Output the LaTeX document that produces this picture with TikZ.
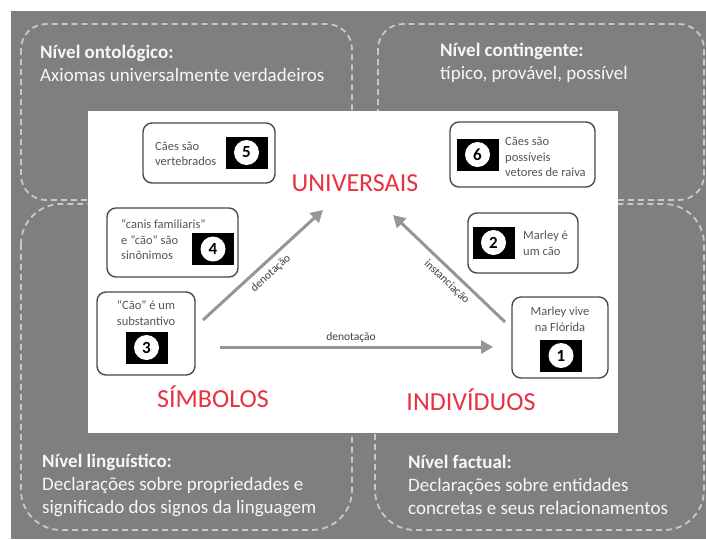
\documentclass[tikz,border=0pt]{standalone}
\usepackage{fontspec}
\setmainfont{Carlito}
\usepackage{xcolor}
\usetikzlibrary{arrows.meta, positioning}

\definecolor{bggray}{RGB}{127,127,127}
\definecolor{dashgray}{RGB}{200,200,200}
\definecolor{headred}{RGB}{232,50,66}
\definecolor{boxline}{RGB}{75,75,75}
\definecolor{boxtext}{RGB}{85,85,85}
\definecolor{arrowgray}{RGB}{150,150,150}

\begin{document}
\begin{tikzpicture}[
			x=1pt, y=-1pt,
			level/.style = {draw=dashgray, line width=1.8pt, dash pattern=on 6pt off 4pt, rounded corners=#1},
			leveltext/.style = {text=white!94!gray, font=\fontsize{19}{23}\selectfont,
					align=left, anchor=west, inner sep=0pt},
			category/.style = {text=headred, font=\fontsize{26}{30}\selectfont, inner sep=0pt},
			stmt/.style = {rectangle, draw=boxline, line width=1.4pt, rounded corners=9pt, inner sep=0pt},
			stmttext/.style = {text=boxtext, font=\fontsize{12.5}{15.5}\selectfont, inner sep=0pt},
			badge/.style = {rectangle, fill=black, minimum width=42pt, minimum height=32pt, inner sep=0pt},
			digit/.style = {circle, fill=white, minimum size=25pt, inner sep=0pt,
					font=\fontsize{17}{17}\selectfont\bfseries},
			line/.style = {draw=arrowgray, line width=3pt, -{Triangle[length=12pt, width=13pt]}},
			linelabel/.style = {text=black!75, font=\fontsize{11.5}{12}\selectfont, inner sep=5pt},
		]
		% Background and frame
		\useasboundingbox (0,0) rectangle (706,539);
		\fill [white] (0,0) rectangle (706,539);
		\fill [bggray] (11,11) rectangle (706,539);

		% Dashed level regions
		\draw [level=25pt] (21,24) rectangle (352,200);
		\draw [level=25pt] (378,24) rectangle (704,200);
		\draw [level=40pt] (21,204) rectangle (352,530);
		\draw [level=40pt] (375,204) rectangle (704,530);

		% Level descriptions
		\node [leveltext] (ontologico) at (40,63) {\textbf{Nível ontológico:}\\Axiomas universalmente verdadeiros};
		\node [leveltext] (contingente) at (440,63) {\textbf{Nível contingente:}\\típico, provável, possível};
		\node [leveltext] (linguistico) at (42,485) {\textbf{Nível linguístico:}\\Declarações sobre propriedades e\\significado dos signos da linguagem};
		\node [leveltext] (factual) at (408,485) {\textbf{Nível factual:}\\Declarações sobre entidades\\concretas e seus relacionamentos};

		% White panel
		\fill [white] (88,111) rectangle (618,433);

		% Triangle corners
		\node [category] (universais) at (355,183) {UNIVERSAIS};
		\node [category] (simbolos) at (213,397) {SÍMBOLOS};
		\node [category] (individuos) at (471,400) {INDIVÍDUOS};

		% Statement 5
		\node [stmt, minimum width=132pt, minimum height=60pt] (box5) at (209,153) {};
		\node [stmttext, align=left, anchor=west] (text5) at (155,154) {Cães são\\vertebrados};
		\node [badge] (badge5) at (246.5,152.5) {};
		\node [digit] (digit5) at (badge5) {5};

		% Statement 4
		\node [stmt, minimum width=131pt, minimum height=69pt] (box4) at (172.5,242.5) {};
		\node [stmttext, align=left, anchor=west] (text4) at (121,240) {“canis familiaris”\\e “cão” são\\sinônimos};
		\node [badge] (badge4) at (213,249) {};
		\node [digit] (digit4) at (badge4) {4};

		% Statement 3
		\node [stmt, minimum width=98pt, minimum height=83pt] (box3) at (146,333.5) {};
		\node [stmttext, align=center] (text3) at (146,313) {“Cão” é um\\substantivo};
		\node [badge] (badge3) at (146.5,347.5) {};
		\node [digit] (digit3) at (badge3) {3};

		% Statement 6
		\node [stmt, minimum width=145pt, minimum height=65pt] (box6) at (522.5,154.5) {};
		\node [badge] (badge6) at (477.5,154.5) {};
		\node [digit] (digit6) at (badge6) {6};
		\node [stmttext, align=left, anchor=west] (text6) at (505,157) {Cães são\\possíveis\\vetores de raiva};

		% Statement 2
		\node [stmt, minimum width=110pt, minimum height=60pt] (box2) at (523,243) {};
		\node [badge] (badge2) at (493.5,242.5) {};
		\node [digit] (digit2) at (badge2) {2};
		\node [stmttext, align=left, anchor=west] (text2) at (523,243) {Marley é\\um cão};

		% Statement 1
		\node [stmt, minimum width=96pt, minimum height=81pt] (box1) at (560,337.5) {};
		\node [stmttext, align=center] (text1) at (560,319) {Marley vive\\na Flórida};
		\node [badge] (badge1) at (561,355.5) {};
		\node [digit] (digit1) at (badge1) {1};

		% Arrow ends
		\coordinate (simb-up) at (203,320);
		\coordinate (univ-left) at (323,210);
		\coordinate (univ-right) at (393,215);
		\coordinate (ind-up) at (505,322);
		\coordinate (simb-right) at (220,347);
		\coordinate (ind-left) at (493,347);

		% Draw arrows
		\path [line] (simb-up) -- node [linelabel, sloped, below, pos=0.5] (denot1) {denotação} (univ-left);
		\path [line] (ind-up) -- node [linelabel, sloped, below, pos=0.45] (inst) {instanciação} (univ-right);
		\path [line] (simb-right) -- node [linelabel, above, pos=0.48, inner sep=3pt] (denot2) {denotação} (ind-left);
	\end{tikzpicture}
\end{document}
